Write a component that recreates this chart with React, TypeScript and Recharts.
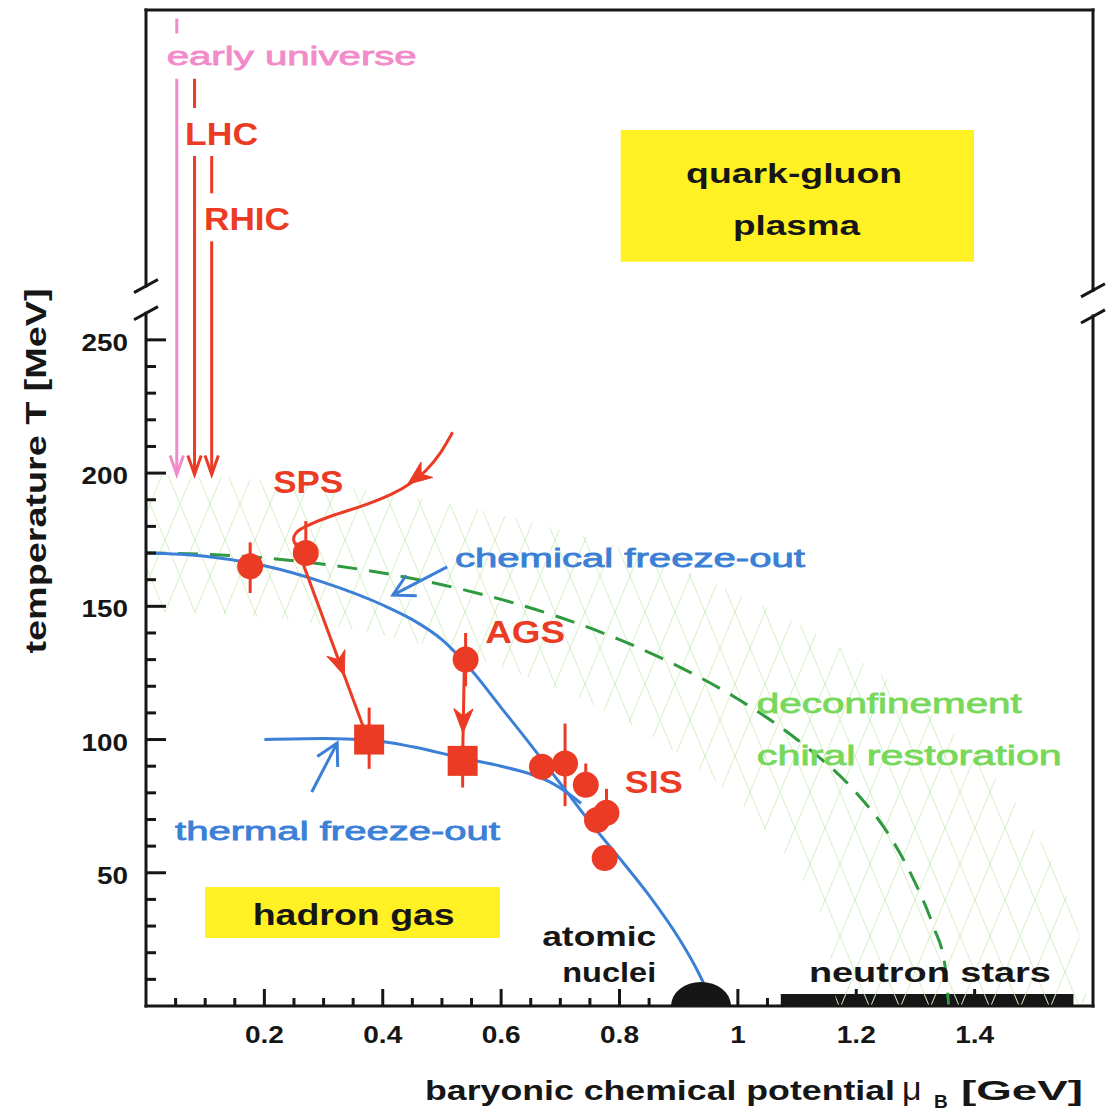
import {
  Area,
  ComposedChart,
  ErrorBar,
  Line,
  ReferenceArea,
  ReferenceDot,
  ReferenceLine,
  Scatter,
  XAxis,
  YAxis,
} from "recharts";

const FONT = '"Liberation Sans", Arial, Helvetica, sans-serif';
const INK = "#161616";
const RED = "#eb3b25";
const PINK = "#f28bc9";
const BLUE = "#3b7fd6";
const DASH_GREEN = "#2f9940";
const LABEL_GREEN = "#78d85b";
const YELLOW = "#fff124";
const HATCH = "#d3efc4";

const WIDTH = 1106;
const HEIGHT = 1117;
const MARGIN = { top: 9, right: 12, bottom: 31, left: 46 };
const Y_AXIS_W = 100;
const X_AXIS_H = 80;
const MU_MAX = 1.6;
const T_MAX = 373.8;
// plot size in px, used to turn arrow directions into screen angles
const PLOT_W = WIDTH - MARGIN.left - Y_AXIS_W - MARGIN.right - 1;
const PLOT_H = HEIGHT - MARGIN.top - 1 - MARGIN.bottom - X_AXIS_H;
const PX_PER_MU = PLOT_W / MU_MAX;
const PX_PER_T = PLOT_H / T_MAX;

// axis ticks
const muTicks = [
  0.05, 0.1, 0.15, 0.2, 0.25, 0.3, 0.35, 0.4, 0.45, 0.5, 0.55, 0.6, 0.65, 0.7, 0.75, 0.8,
  0.85, 0.9, 0.95, 1, 1.05, 1.1, 1.15, 1.2, 1.25, 1.3, 1.35, 1.4, 1.45, 1.5, 1.55,
];
const muLabels = [0.2, 0.4, 0.6, 0.8, 1, 1.2, 1.4];
const tTicks = [
  10, 20, 30, 40, 50, 60, 70, 80, 90, 100, 110, 120, 130, 140, 150, 160, 170, 180, 190, 200,
  210, 220, 230, 240, 250,
];
const tLabels = [50, 100, 150, 200, 250];

// chemical freeze-out curve (mu_B in GeV, T in MeV)
const chemMu = [0, 0.1, 0.2, 0.3, 0.4, 0.45, 0.5, 0.55, 0.6, 0.65, 0.7, 0.75, 0.8, 0.85, 0.9, 0.93, 0.96];
const chemT = [170, 168.8, 165.2, 159, 150.5, 145, 137.5, 126, 112, 98, 83.5, 69, 55.5, 41.5, 25.5, 14, 0];

// thermal freeze-out curve
const thermMu = [0.2, 0.3, 0.377, 0.45, 0.535, 0.6, 0.65, 0.683, 0.712, 0.735];
const thermT = [100, 100.4, 99.8, 97.3, 93, 90, 87, 84, 80, 76];

// deconfinement / chiral restoration boundary (dashed)
const deconfMu = [0, 0.1, 0.2, 0.3, 0.4, 0.5, 0.6, 0.7, 0.8, 0.9, 1, 1.1, 1.2, 1.25, 1.3, 1.33, 1.35, 1.356];
const deconfT = [170, 169.5, 168.2, 165.8, 162.5, 158.1, 152.6, 145.8, 137.5, 127.4, 115.2, 100, 80, 66, 46, 30, 15, 0];

// uncertainty band around the transition
const bandMu = [0, 0.1, 0.2, 0.3, 0.4, 0.5, 0.6, 0.7, 0.8, 0.9, 1, 1.05, 1.1, 1.15, 1.17, 1.2, 1.3, 1.4, 1.45, 1.5, 1.55, 1.58, 1.59];
const bandLow = [148, 147.5, 145.8, 143.1, 139.1, 133.8, 127.1, 118.6, 108, 94.6, 76.8, 65.3, 50.4, 27.2, 0, 0, 0, 0, 0, 0, 0, 0, 0];
const bandHigh = [199, 198.6, 197.4, 195.4, 192.6, 188.9, 184.3, 178.7, 172, 164, 154.7, 149.4, 143.7, 137.4, 134.7, 130.5, 114.6, 94.3, 81.6, 66, 44.4, 22.2, 0];

// SPS trajectory coming down from the plasma phase
const spsMu = [0.518, 0.498, 0.473, 0.447, 0.414, 0.363, 0.312, 0.27, 0.253, 0.25, 0.26];
const spsT = [215.3, 207.8, 201, 196.2, 192, 187.5, 183.8, 180, 177.4, 174.4, 171.4];

// chemical freeze-out points (circles), err = [minus, plus]
const chemPoints = [
  { x: 0.176, y: 165, err: [10, 9] },
  { x: 0.27, y: 170, err: [0, 12] },
  { x: 0.54, y: 130, err: [10, 10] },
  { x: 0.669, y: 89.8, err: [0, 0] },
  { x: 0.708, y: 91, err: [16, 15] },
  { x: 0.743, y: 83, err: [0, 8] },
  { x: 0.762, y: 69.8, err: [0, 0] },
  { x: 0.778, y: 72.5, err: [0, 9], errX: 0.01 },
  { x: 0.775, y: 55.5, err: [0, 0] },
];

// thermal freeze-out points (squares)
const thermPoints = [
  { x: 0.377, y: 100, err: [11, 12] },
  { x: 0.535, y: 92, err: [10, 6] },
];

// straight trajectory pieces [mu0, T0, mu1, T1]
const redSegments = [
  [0.082, 348, 0.082, 337],
  [0.082, 319, 0.082, 199.5],
  [0.111, 319, 0.111, 305],
  [0.111, 287, 0.111, 199.5],
  [0.252, 174, 0.37, 103],
  [0.538, 130, 0.535, 93],
];
const pinkSegments = [
  [0.052, 370.6, 0.052, 365],
  [0.052, 348, 0.052, 199.5],
];
const blueSegments = [
  [0.509, 164.8, 0.417, 154.2],
  [0.28, 80.3, 0.323, 98.7],
];

// arrow heads: tip (x, y) and a point back along the shaft (fx, fy)
const pinkHeads = [{ x: 0.052, y: 199.5, fx: 0.052, fy: 260 }];
const redOpenHeads = [
  { x: 0.082, y: 199.5, fx: 0.082, fy: 260 },
  { x: 0.111, y: 199.5, fx: 0.111, fy: 260 },
];
const blueHeads = [
  { x: 0.417, y: 154.2, fx: 0.509, fy: 164.8 },
  { x: 0.323, y: 98.7, fx: 0.28, fy: 80.3 },
];
const redFilledHeads = [
  { x: 0.442, y: 195.8, fx: 0.47, fy: 200.5 },
  { x: 0.335, y: 124, fx: 0.252, fy: 174 },
  { x: 0.5355, y: 102.5, fx: 0.538, fy: 130 },
];

type Note = {
  text: string;
  x: number;
  y: number;
  color: string;
  size: number;
  w: number;
  bold?: boolean;
  anchor?: "start" | "middle" | "end";
};

const notes: Note[] = [
  { text: "early universe", x: 0.035, y: 353.2, color: PINK, size: 26, w: 250 },
  { text: "LHC", x: 0.066, y: 323.1, color: RED, size: 32, w: 73, bold: true },
  { text: "RHIC", x: 0.098, y: 291.2, color: RED, size: 32, w: 86, bold: true },
  { text: "quark-gluon", x: 1.095, y: 308.9, color: INK, size: 28, w: 216, bold: true, anchor: "middle" },
  { text: "plasma", x: 1.099, y: 289.4, color: INK, size: 28, w: 127, bold: true, anchor: "middle" },
  { text: "SPS", x: 0.215, y: 192.5, color: RED, size: 32, w: 70, bold: true },
  { text: "chemical freeze-out", x: 0.522, y: 164.8, color: BLUE, size: 26, w: 350 },
  { text: "AGS", x: 0.573, y: 136.2, color: RED, size: 32, w: 80, bold: true },
  { text: "deconfinement", x: 1.032, y: 109.9, color: LABEL_GREEN, size: 28, w: 265 },
  { text: "chiral restoration", x: 1.032, y: 90.4, color: LABEL_GREEN, size: 28, w: 305 },
  { text: "SIS", x: 0.809, y: 79.9, color: RED, size: 32, w: 58, bold: true },
  { text: "thermal freeze-out", x: 0.049, y: 62.3, color: BLUE, size: 26, w: 325 },
  { text: "hadron gas", x: 0.351, y: 30.4, color: INK, size: 30, w: 202, bold: true, anchor: "middle" },
  { text: "atomic", x: 0.862, y: 22.5, color: INK, size: 28, w: 114, bold: true, anchor: "end" },
  { text: "nuclei", x: 0.862, y: 9, color: INK, size: 28, w: 94, bold: true, anchor: "end" },
  { text: "neutron stars", x: 1.12, y: 9, color: INK, size: 28, w: 242, bold: true },
];

const toPts = (mu: number[], t: number[]) => mu.map((x, i) => ({ x, y: t[i] }));
const segPts = (s: number[]) => [
  { x: s[0], y: s[1] },
  { x: s[2], y: s[3] },
];

type Head = { x: number; y: number; fx: number; fy: number };

function headAngle(h: Head) {
  const dx = (h.x - h.fx) * PX_PER_MU;
  const dy = -(h.y - h.fy) * PX_PER_T;
  return Math.atan2(dy, dx);
}

function openHead(color: string, len: number, spread: number) {
  return (p: any) => {
    const a = headAngle(p.payload) + Math.PI;
    const w1 = [p.cx + len * Math.cos(a - spread), p.cy + len * Math.sin(a - spread)];
    const w2 = [p.cx + len * Math.cos(a + spread), p.cy + len * Math.sin(a + spread)];
    return (
      <polyline
        points={`${w1[0]},${w1[1]} ${p.cx},${p.cy} ${w2[0]},${w2[1]}`}
        fill="none"
        stroke={color}
        strokeWidth={3}
      />
    );
  };
}

function filledHead(color: string, len: number, spread: number) {
  return (p: any) => {
    const a = headAngle(p.payload) + Math.PI;
    const w1 = [p.cx + len * Math.cos(a - spread), p.cy + len * Math.sin(a - spread)];
    const w2 = [p.cx + len * Math.cos(a + spread), p.cy + len * Math.sin(a + spread)];
    const n = [p.cx + 0.65 * len * Math.cos(a), p.cy + 0.65 * len * Math.sin(a)];
    return (
      <path
        d={`M${p.cx},${p.cy} L${w1[0]},${w1[1]} L${n[0]},${n[1]} L${w2[0]},${w2[1]} Z`}
        fill={color}
        stroke={color}
        strokeWidth={1}
      />
    );
  };
}

const tickWidth = (s: string) => [...s].reduce((w, c) => w + (c === "." ? 8 : 15.5), 0);

function TickLabel({ x, y, text, anchor }: { x: number; y: number; text: string; anchor: "middle" | "end" }) {
  return (
    <text
      x={x}
      y={y}
      fill={INK}
      fontFamily={FONT}
      fontWeight={700}
      fontSize={23}
      textAnchor={anchor}
      textLength={tickWidth(text)}
      lengthAdjust="spacingAndGlyphs"
    >
      {text}
    </text>
  );
}

const isMuMajor = (v: number) => muLabels.includes(Math.round(v * 100) / 100);
const isTMajor = (v: number) => tLabels.includes(v);

function BottomTick({ x = 0, y = 0, payload }: any) {
  const v = payload?.value ?? 0;
  const major = isMuMajor(v);
  return (
    <g>
      <line x1={x} x2={x} y1={y} y2={y - (major ? 17 : 8)} stroke={INK} strokeWidth={3} />
      {major && <TickLabel x={x} y={y + 37} text={String(v)} anchor="middle" />}
    </g>
  );
}

function TopTick({ x = 0, y = 0, payload }: any) {
  const major = isMuMajor(payload?.value ?? 0);
  return <line x1={x} x2={x} y1={y} y2={y + (major ? 18 : 9)} stroke={INK} strokeWidth={3} />;
}

function LeftTick({ x = 0, y = 0, payload }: any) {
  const v = payload?.value ?? 0;
  const major = isTMajor(v);
  return (
    <g>
      <line x1={x} x2={x + (major ? 20 : 10)} y1={y} y2={y} stroke={INK} strokeWidth={3} />
      {major && <TickLabel x={x - 18} y={y + 11} text={String(v)} anchor="end" />}
    </g>
  );
}

function RightTick({ x = 0, y = 0, payload }: any) {
  const major = isTMajor(payload?.value ?? 0);
  return <line x1={x} x2={x - (major ? 20 : 10)} y1={y} y2={y} stroke={INK} strokeWidth={3} />;
}

function XTitle({ viewBox }: any) {
  const right = viewBox.x + viewBox.width - 10;
  const base = viewBox.y + 94;
  const common = { fill: INK, fontFamily: FONT, fontWeight: 700 } as const;
  return (
    <g>
      <text {...common} x={425} y={base} fontSize={28} textLength={470} lengthAdjust="spacingAndGlyphs">
        baryonic chemical potential
      </text>
      <text {...common} x={right - 181} y={base} fontSize={34} fontWeight={400}>
        μ
      </text>
      <text {...common} x={right - 149} y={base + 8} fontSize={19}>
        B
      </text>
      <text {...common} x={right} y={base} fontSize={28} textAnchor="end" textLength={122} lengthAdjust="spacingAndGlyphs">
        [GeV]
      </text>
    </g>
  );
}

function YTitle({ viewBox }: any) {
  const x = viewBox.x;
  const y = viewBox.y + 461;
  return (
    <text
      x={x}
      y={y}
      transform={`rotate(-90 ${x} ${y})`}
      textAnchor="middle"
      fill={INK}
      fontFamily={FONT}
      fontWeight={700}
      fontSize={30}
      textLength={365}
      lengthAdjust="spacingAndGlyphs"
    >
      temperature T [MeV]
    </text>
  );
}

function noteShape(n: Note) {
  return (p: any) => (
    <text
      x={p.cx}
      y={p.cy}
      fill={n.color}
      stroke={n.bold ? "none" : n.color}
      strokeWidth={n.bold ? 0 : 0.8}
      fontFamily={FONT}
      fontWeight={n.bold ? 700 : 400}
      fontSize={n.size}
      textAnchor={n.anchor ?? "start"}
      textLength={n.w}
      lengthAdjust="spacingAndGlyphs"
    >
      {n.text}
    </text>
  );
}

// half-ellipse standing on the mu axis
function dome(p: any) {
  const rx = 30;
  const ry = 24;
  return (
    <path
      d={`M${p.cx - rx},${p.cy} A${rx},${ry} 0 0 1 ${p.cx + rx},${p.cy} Z`}
      fill={INK}
    />
  );
}

// axis frame with a break in the temperature scale
const frame = [
  [0, 0, MU_MAX, 0],
  [0, T_MAX, MU_MAX, T_MAX],
  [0, 0, 0, 260],
  [0, 270.2, 0, T_MAX],
  [MU_MAX, 0, MU_MAX, 259],
  [MU_MAX, 268.6, MU_MAX, T_MAX],
  [-0.018, 257.8, 0.018, 262.2],
  [-0.018, 268, 0.018, 272.4],
  [MU_MAX - 0.018, 256.6, MU_MAX + 0.018, 261],
  [MU_MAX - 0.018, 266.4, MU_MAX + 0.018, 270.8],
];

export default function App() {
  const band = bandMu.map((x, i) => ({ x, band: [bandLow[i], bandHigh[i]] }));
  const lineProps = { dataKey: "y", dot: false, activeDot: false, isAnimationActive: false, legendType: "none" as const };

  return (
    <div style={{ position: "absolute", left: 0, top: 0, background: "#fff" }}>
      <ComposedChart width={WIDTH} height={HEIGHT} margin={MARGIN}>
        <defs>
          <pattern id="bandHatch" width={30} height={72} patternUnits="userSpaceOnUse">
            <path d="M0 0 L30 72 M30 0 L0 72" stroke={HATCH} strokeWidth={1} fill="none" />
          </pattern>
        </defs>

        <XAxis
          dataKey="x"
          type="number"
          domain={[0, MU_MAX]}
          ticks={muTicks}
          interval={0}
          height={X_AXIS_H}
          axisLine={false}
          tickLine={false}
          tickSize={0}
          tickMargin={0}
          tick={BottomTick}
          label={{ content: XTitle }}
        />
        <XAxis
          xAxisId="top"
          orientation="top"
          type="number"
          domain={[0, MU_MAX]}
          ticks={muTicks}
          interval={0}
          height={1}
          axisLine={false}
          tickLine={false}
          tickSize={0}
          tickMargin={0}
          tick={TopTick}
        />
        <YAxis
          type="number"
          domain={[0, T_MAX]}
          ticks={tTicks}
          interval={0}
          width={Y_AXIS_W}
          axisLine={false}
          tickLine={false}
          tickSize={0}
          tickMargin={0}
          tick={LeftTick}
          label={{ content: YTitle }}
        />
        <YAxis
          yAxisId="right"
          orientation="right"
          type="number"
          domain={[0, T_MAX]}
          ticks={tTicks}
          interval={0}
          width={1}
          axisLine={false}
          tickLine={false}
          tickSize={0}
          tickMargin={0}
          tick={RightTick}
        />

        <ReferenceArea x1={0.802} x2={1.399} y1={279.3} y2={328.8} fill={YELLOW} fillOpacity={1} stroke="none" />
        <ReferenceArea x1={0.0997} x2={0.598} y1={25.5} y2={44.7} fill={YELLOW} fillOpacity={1} stroke="none" />

        {/* atomic nuclei and neutron stars on the mu axis */}
        <ReferenceDot x={0.9377} y={0} r={30} ifOverflow="visible" shape={dome} />
        <ReferenceArea x1={1.0725} x2={1.567} y1={0} y2={4.5} fill={INK} fillOpacity={1} stroke="none" />

        <Area
          data={band}
          dataKey="band"
          type="monotone"
          stroke="none"
          fill="url(#bandHatch)"
          fillOpacity={1}
          isAnimationActive={false}
          activeDot={false}
          legendType="none"
        />

        <Scatter
          data={chemPoints}
          dataKey="y"
          isAnimationActive={false}
          shape={(p: any) => <circle cx={p.cx} cy={p.cy} r={13} fill={RED} />}
        >
          <ErrorBar dataKey="err" direction="y" width={0} stroke={RED} strokeWidth={3} isAnimationActive={false} />
          <ErrorBar dataKey="errX" direction="x" width={0} stroke={RED} strokeWidth={3} isAnimationActive={false} />
        </Scatter>

        <Line {...lineProps} data={toPts(deconfMu, deconfT)} type="monotone" stroke={DASH_GREEN} strokeWidth={3} strokeDasharray="20 12" />
        <Line {...lineProps} data={toPts(chemMu, chemT)} type="monotone" stroke={BLUE} strokeWidth={3} />
        <Line {...lineProps} data={toPts(thermMu, thermT)} type="monotone" stroke={BLUE} strokeWidth={3} />

        <Scatter
          data={thermPoints}
          dataKey="y"
          isAnimationActive={false}
          shape={(p: any) => <rect x={p.cx - 15} y={p.cy - 15} width={30} height={30} fill={RED} />}
        >
          <ErrorBar dataKey="err" direction="y" width={0} stroke={RED} strokeWidth={3} isAnimationActive={false} />
        </Scatter>

        <Line {...lineProps} data={toPts(spsMu, spsT)} type="natural" stroke={RED} strokeWidth={3} />
        {redSegments.map((s, i) => (
          <Line key={`r${i}`} {...lineProps} data={segPts(s)} type="linear" stroke={RED} strokeWidth={3} />
        ))}
        {pinkSegments.map((s, i) => (
          <Line key={`p${i}`} {...lineProps} data={segPts(s)} type="linear" stroke={PINK} strokeWidth={3} />
        ))}
        {blueSegments.map((s, i) => (
          <Line key={`b${i}`} {...lineProps} data={segPts(s)} type="linear" stroke={BLUE} strokeWidth={3} />
        ))}

        <Scatter data={pinkHeads} dataKey="y" isAnimationActive={false} shape={openHead(PINK, 20, 0.34)} />
        <Scatter data={redOpenHeads} dataKey="y" isAnimationActive={false} shape={openHead(RED, 20, 0.34)} />
        <Scatter data={blueHeads} dataKey="y" isAnimationActive={false} shape={openHead(BLUE, 24, 0.5)} />
        <Scatter data={redFilledHeads} dataKey="y" isAnimationActive={false} shape={filledHead(RED, 26, 0.38)} />

        {frame.map((f, i) => (
          <ReferenceLine
            key={`f${i}`}
            segment={[
              { x: f[0], y: f[1] },
              { x: f[2], y: f[3] },
            ]}
            stroke={INK}
            strokeWidth={3}
            strokeLinecap="square"
            ifOverflow="visible"
          />
        ))}

        {notes.map((n) => (
          <ReferenceDot key={n.text} x={n.x} y={n.y} r={0} ifOverflow="visible" shape={noteShape(n)} />
        ))}
      </ComposedChart>
    </div>
  );
}
